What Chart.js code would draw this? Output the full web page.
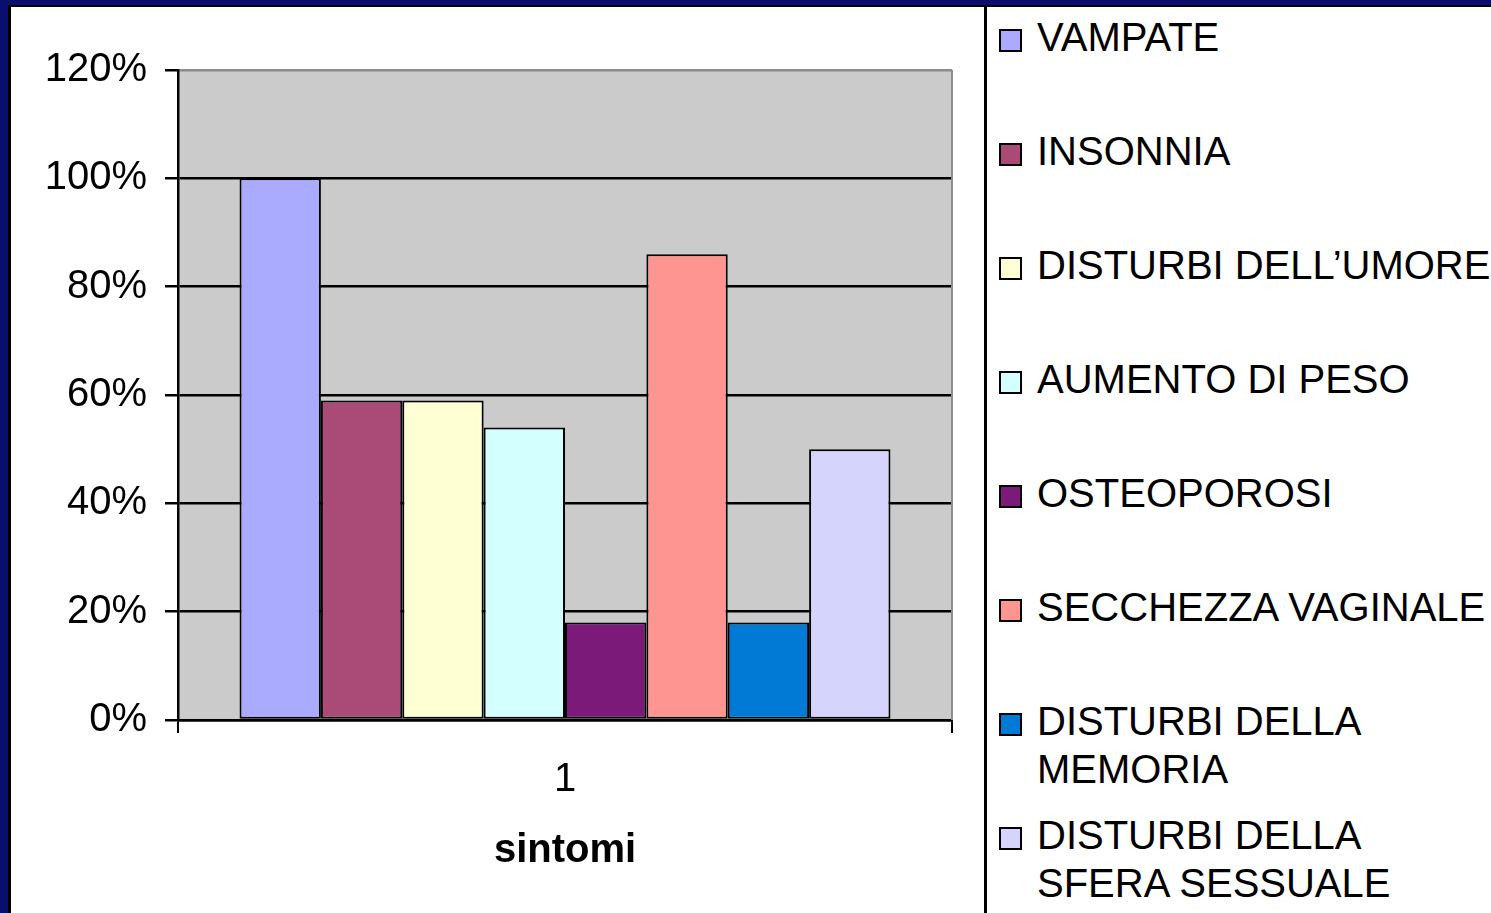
<!DOCTYPE html>
<html>
<head>
<meta charset="utf-8">
<script src="https://cdn.jsdelivr.net/npm/chart.js@4/dist/chart.umd.min.js"></script>
<style>
  html, body { margin: 0; padding: 0; }
  body {
    width: 1491px; height: 913px; overflow: hidden; position: relative;
    background: #0a0f6e;
    font-family: 'Liberation Sans', Arial, sans-serif;
  }
  #panel {
    position: absolute; left: 8px; top: 5px; width: 1483px; height: 908px;
    background: #fff; border-left: 3px solid #000; border-top: 2px solid #000;
    box-sizing: border-box;
  }
  #chart { position: absolute; left: 11px; top: 7px; }
  #sep { position: absolute; left: 984px; top: 7px; width: 3px; height: 906px; background: #000; }
  .item { position: absolute; left: 999px; white-space: nowrap; }
  .box {
    position: absolute; left: 0; top: 16px; width: 23px; height: 23px;
    border: 2px solid #000; box-sizing: border-box;
  }
  .txt { position: absolute; left: 38px; top: 0; font-size: 40px; line-height: 48px; color: #000; }
</style>
</head>
<body>
<div id="panel"></div>
<canvas id="chart" width="973" height="906"></canvas>
<div id="sep"></div>
<div id="legend"></div>

<script>
// categoria unica sull'asse x
const categorie = ['1'];

// sintomi (una serie per sintomo)
const sintomi = [
  'VAMPATE',
  'INSONNIA',
  'DISTURBI DELL’UMORE',
  'AUMENTO DI PESO',
  'OSTEOPOROSI',
  'SECCHEZZA VAGINALE',
  ['DISTURBI DELLA', 'MEMORIA'],
  ['DISTURBI DELLA', 'SFERA SESSUALE']
];

// percentuali
const percentuali = [1.00, 0.59, 0.59, 0.54, 0.18, 0.86, 0.18, 0.50];

const colori = ['#aaaaff', '#aa4a77', '#ffffd4', '#d4ffff', '#7b1a78', '#ff9590', '#007ad4', '#d4d4fc'];

// etichette asse y
const tickY = ['0%', '20%', '40%', '60%', '80%', '100%', '120%'];

const FONT = "'Liberation Sans', Arial, sans-serif";

// -----------------------------------------------
// legenda HTML a destra
// -----------------------------------------------
function renderLegend() {
  const html = sintomi.map(function(s, i) {
    const righe = Array.isArray(s) ? s.join('<br>') : s;
    return `
      <div class="item" style="top:${13 + 114 * i}px">
        <div class="box" style="background:${colori[i]}"></div>
        <div class="txt">${righe}</div>
      </div>`;
  }).join('');
  document.getElementById('legend').innerHTML = html;
}

// sfondo grigio dell'area del grafico e bordo destro
const plotBg = {
  id: 'plotBg',
  beforeDraw(chart) {
    const a = chart.chartArea;
    const ctx = chart.ctx;
    ctx.save();
    ctx.fillStyle = '#cbcbcb';
    ctx.fillRect(a.left, a.top, a.right - a.left, a.bottom - a.top);
    ctx.restore();
  },
  beforeDatasetsDraw(chart) {
    const a = chart.chartArea;
    const ctx = chart.ctx;
    ctx.save();
    ctx.strokeStyle = '#8c8c8c';
    ctx.lineWidth = 2;
    ctx.beginPath();
    ctx.moveTo(a.right, a.top);
    ctx.lineTo(a.right, a.bottom);
    ctx.stroke();
    ctx.restore();
  }
};

function renderChart() {
  const datasets = sintomi.map(function(s, i) {
    return {
      label           : Array.isArray(s) ? s.join(' ') : s,
      data            : [percentuali[i]],
      backgroundColor : colori[i],
      borderColor     : '#000',
      borderWidth     : 2,
      borderSkipped   : false
    };
  });

  new Chart(document.getElementById('chart'), {
    type: 'bar',
    data: { labels: categorie, datasets: datasets },
    plugins: [plotBg],
    options: {
      responsive: false,
      animation: false,
      devicePixelRatio: 1,
      layout: { padding: { top: 63, right: 32, left: 0, bottom: 0 } },
      datasets: { bar: { categoryPercentage: 0.841, barPercentage: 1 } },
      plugins: { legend: { display: false }, tooltip: { enabled: false } },
      scales: {
        x: {
          afterFit: function(s) { s.height = 193; },
          grid: { offset: true, drawOnChartArea: false, color: '#000', tickColor: '#000', tickLength: 13, lineWidth: 2 },
          border: { color: '#000', width: 2.5 },
          ticks: { color: '#000', font: { family: FONT, size: 40 }, padding: 23 },
          title: {
            display: true, text: 'sintomi', color: '#000',
            font: { family: FONT, size: 40, weight: 'bold' },
            padding: { top: 0, bottom: 38 }
          }
        },
        y: {
          min: 0, max: 1.2,
          afterFit: function(s) { s.width = 167; },
          grid: {
            color: function(c) { return c.tick && c.tick.value > 1.19 ? '#8c8c8c' : '#000'; },
            tickColor: '#000', tickLength: 13, lineWidth: 2.5
          },
          border: { color: '#000', width: 2.5 },
          ticks: {
            stepSize: 0.2, padding: 18, color: '#000',
            font: { family: FONT, size: 40 },
            callback: function(v, i) { return tickY[i]; }
          }
        }
      }
    }
  });
}

renderLegend();
renderChart();
</script>
</body>
</html>
